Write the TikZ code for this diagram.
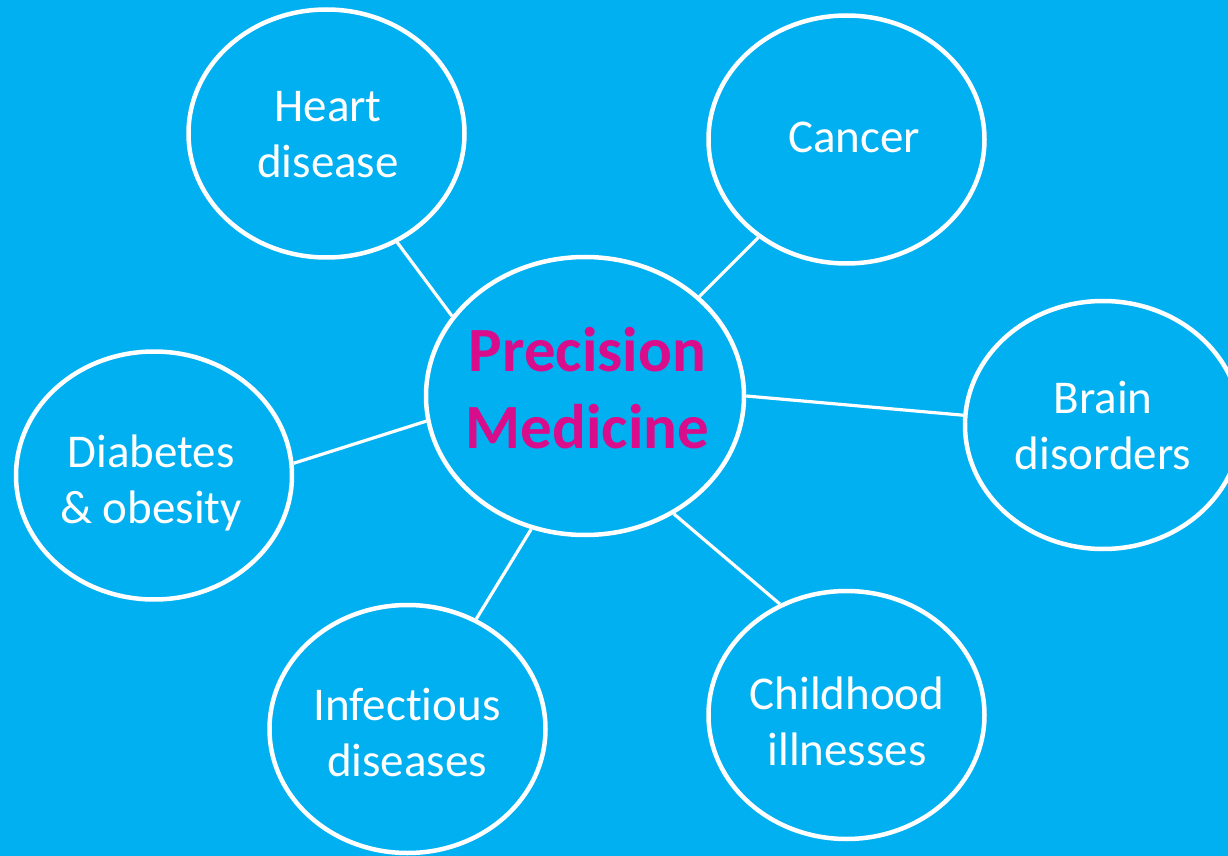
\documentclass[tikz,border=0pt]{standalone}
\usepackage{fontspec}
\setmainfont[Ligatures={NoCommon}]{Carlito}
\usetikzlibrary{shapes.geometric}
\definecolor{bgblue}{RGB}{0,176,240}
\definecolor{pmmag}{RGB}{217,12,140}
\begin{document}
\begin{tikzpicture}[x=0.5pt,y=-0.5pt,
  bubble/.style={ellipse, draw=white, fill=bgblue, line width=2.25pt, minimum width=138pt, minimum height=124pt, inner sep=0pt},
  hub/.style={bubble, minimum width=159pt, minimum height=139pt},
  link/.style={draw=white, line width=1.6pt},
  lbl/.style={text=white, align=center, font=\fontsize{23.5}{28}\selectfont, inner sep=0pt},
  hublbl/.style={text=pmmag, align=center, font=\bfseries\fontsize{31.5}{38.5}\selectfont, inner sep=0pt}]
\path[use as bounding box, clip] (0,0) rectangle (1228,856);
\fill[bgblue] (0,0) rectangle (1228,856);

\node[hub] (pm) at (585,396) {};
\node[bubble] (heart) at (326.5,133.5) {};
\node[bubble] (cancer) at (846.5,139.5) {};
\node[bubble] (brain) at (1103,425) {};
\node[bubble] (diab) at (154,475.5) {};
\node[bubble] (infect) at (407.5,729) {};
\node[bubble] (child) at (846.5,715) {};

\draw[link] (pm.149) -- (heart.-57.3);
\draw[link] (pm.41.3) -- (cancer.228.1);
\draw[link] (pm.0) -- (brain.176.3);
\draw[link] (pm.189.2) -- (diab.5);
\draw[link] (pm.248.1) -- (infect.58);
\draw[link] (pm.307.8) -- (child.121);

\node[hublbl] (pmt) at (587.5,388.5) {Precision\\Medicine};
\node[lbl] (heartt) at (328,134.5) {Heart\\disease};
\node[lbl] (cancert) at (854,137.5) {Cancer};
\node[lbl] (braint) at (1103,425.5) {Brain\\disorders};
\node[lbl] (diabt) at (151,483) {Diabetes\\\& obesity};
\node[lbl] (infectt) at (407,733) {Infectious\\diseases};
\node[lbl] (childt) at (847,721.5) {Childhood\\illnesses};
\end{tikzpicture}
\end{document}
